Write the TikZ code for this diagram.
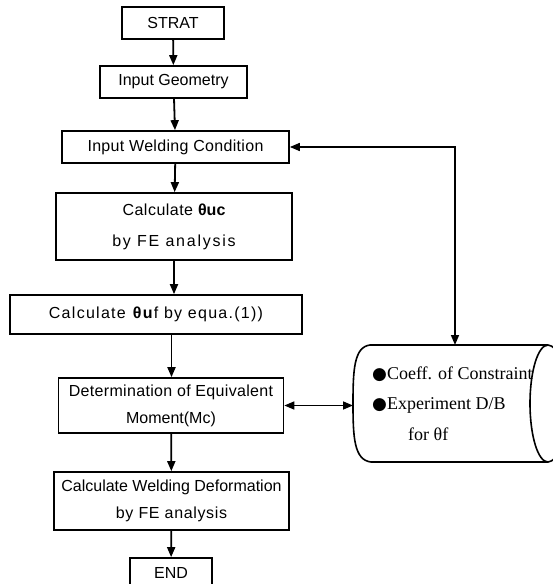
\documentclass[tikz,border=0pt]{standalone}
\usepackage{fontspec}
\setmainfont{Liberation Sans}
\newfontfamily\serifcyl{Liberation Serif}
\newfontfamily\bulletfont{DejaVu Sans}
\usetikzlibrary{arrows.meta}
\newcommand{\lsp}[2]{{\addfontfeature{LetterSpace=#1}#2}}
\begin{document}
\begin{tikzpicture}[x=1pt,y=-1pt,
  box/.style={draw, line width=1.7pt, inner sep=0pt, font=\fontsize{16}{17}\selectfont, align=center},
  flow/.style={line width=1.8pt, -{Triangle[length=10pt,width=8pt]}},
  both/.style={line width=1.6pt, {Triangle[length=10pt,width=8pt]}-{Triangle[length=10pt,width=8pt]}},
  cyltext/.style={anchor=base west, inner sep=0pt, font=\serifcyl\fontsize{18}{20}\selectfont}]
\clip (0,0) rectangle (553,584);
\fill[white] (0,0) rectangle (553,584);

\node[box, minimum width=102pt, minimum height=32pt] (start) at (173,23) {STRAT};
\node[box, minimum width=147pt, minimum height=32pt] (geom) at (173.5,82) {Input Geometry};
\node[box, minimum width=227pt, minimum height=32pt] (weld) at (175.5,147) {\lsp{2}{Input Welding Condition}};
\node[box, minimum width=236pt, minimum height=67pt] (calcuc) at (174,226.5) {\lsp{3}{Calculate} \textbf{θuc}\\[14pt]\lsp{11}{by FE analysis}};
\node[box, minimum width=292pt, minimum height=39pt] (calcuf) at (156,314.5) {\lsp{8}{Calculate \textbf{θu}f by equa.(1))}};
\node[box, minimum width=225pt, minimum height=55pt] (det) at (171,405.5) {\lsp{2}{Determination of Equivalent}\\[10pt]Moment(Mc)};
\node[box, minimum width=235pt, minimum height=58pt] (deform) at (171.5,501) {Calculate Welding Deformation\\[10pt]\lsp{4}{by FE analysis}};
\node[box, minimum width=82pt, minimum height=30pt] (end) at (171,573) {END};

% cylinder (data store)
\coordinate (cyltop) at (455,345);
\coordinate (cylleft) at (353,405.5);
\draw[line width=1.6pt] (548,345) -- (370,345)
  .. controls (354,347) and (353,370) .. (353,403.5)
  .. controls (353,437) and (354,460) .. (371,462)
  -- (548,462);
\node[cyltext] (t1) at (372,379) {{\bulletfont\fontsize{17}{18}\selectfont ●}Coeff. of Constraint};
\node[cyltext] (t2) at (372,409) {{\bulletfont\fontsize{17}{18}\selectfont ●}Experiment D/B};
\node[cyltext] (t3) at (408,440) {for θf};
\draw[line width=1.6pt] (548,345)
  .. controls (538,345) and (530,371.2) .. (530,403.5)
  .. controls (530,435.8) and (538,462) .. (548,462)
  .. controls (558,462) and (566,435.8) .. (566,403.5)
  .. controls (566,371.2) and (558,345) .. (548,345);

% connectors
\draw[flow] (start) -- (geom);
\draw[flow] (geom) -- (weld);
\draw[flow] (weld) -- (calcuc);
\draw[flow] (calcuc) -- (calcuc |- calcuf.north);
\draw[flow] (calcuf.south -| deform) -- (det.north -| deform);
\draw[flow] (det) -- (deform);
\draw[flow] (deform) -- (end);
\draw[both] (weld.east) -| (cyltop);
\draw[both] (det.east) -- (cylleft);
\end{tikzpicture}
\end{document}
